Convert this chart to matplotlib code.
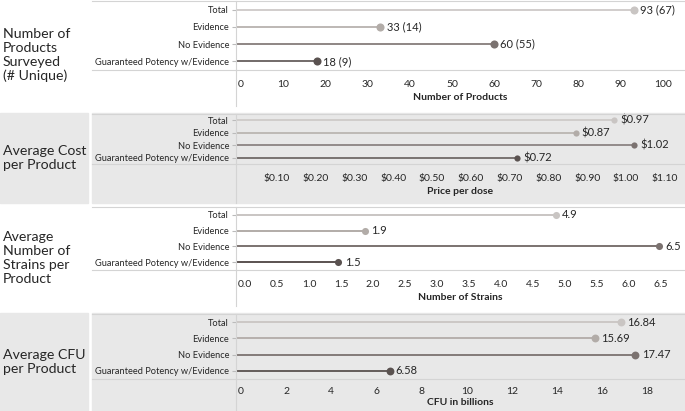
import matplotlib.pyplot as plt
from matplotlib.lines import Line2D
from matplotlib.patches import Rectangle

# ---- data ----
categories = ["Total", "Evidence", "No Evidence", "Guaranteed Potency w/Evidence"]
products = [93, 33, 60, 18]
products_unique = [67, 14, 55, 9]
cost = [0.97, 0.87, 1.02, 0.72]
strains = [4.86, 1.88, 6.48, 1.46]
cfu = [16.84, 15.69, 17.47, 6.58]

panel_titles = ["Number of\nProducts\nSurveyed\n(# Unique)",
                "Average Cost\nper Product",
                "Average\nNumber of\nStrains per\nProduct",
                "Average CFU\nper Product"]
axis_titles = ["Number of Products", "Price per dose", "Number of Strains", "CFU in billions"]

ticks_products = list(range(0, 101, 10))
ticks_cost = [0.1, 0.2, 0.3, 0.4, 0.5, 0.6, 0.7, 0.8, 0.9, 1.0, 1.1]
ticks_strains = [0.0, 0.5, 1.0, 1.5, 2.0, 2.5, 3.0, 3.5, 4.0, 4.5, 5.0, 5.5, 6.0, 6.5]
ticks_cfu = list(range(0, 19, 2))

colors = ["#c9c5c3", "#b2aca8", "#7b7270", "#5a5250"]
TXT = "#262626"

W, H = 685, 411
plt.rcParams['font.family'] = ['Lato', 'DejaVu Sans']
fig = plt.figure(figsize=(W / 100, H / 100), dpi=100)
fig.patch.set_facecolor("white")

def fx(px):
    return px / W

def fy(py):
    return 1 - py / H

def hline(x0, x1, y, color="#d4d4d4", lw=0.8):
    fig.add_artist(Line2D([fx(x0), fx(x1)], [fy(y), fy(y)], color=color, lw=lw))

def vline(x, y0, y1, color="#d4d4d4", lw=0.8):
    fig.add_artist(Line2D([fx(x), fx(x)], [fy(y0), fy(y1)], color=color, lw=lw))

# panel layout in pixels: (panel top, panel bottom, axes top, separator, tick y, title y, label center, shaded)
panels = [
    (0, 106, 1, 70, 82, 98, 55, False),
    (113, 203, 114, 164, 176, 192, 158, True),
    (203, 306, 207, 270, 282, 298, 258, False),
    (313, 411, 314, 379, 390, 404, 362, True),
]

series = [products, cost, strains, cfu]
xlims = [(-1.18, 105.2), (-0.005, 1.152), (-0.141, 6.88), (-0.222, 19.67)]
tick_sets = [ticks_products, ticks_cost, ticks_strains, ticks_cfu]
tick_fmt = [lambda v: f"{v:.0f}", lambda v: f"${v:.2f}", lambda v: f"{v:.1f}", lambda v: f"{v:.0f}"]

def value_label(k, i):
    if k == 0:
        return f"{products[i]} ({products_unique[i]})"
    if k == 1:
        return f"${cost[i]:.2f}"
    if k == 2:
        return f"{strains[i]:.1f}"
    return f"{cfu[i]:.2f}"

dot_sizes = [34, 20, 26, 32]
line_w = [1.2, 1.1, 1.4, 1.3]

for k, (ptop, pbot, atop, sep, ty, tty, lc, shaded) in enumerate(panels):
    bg = "#e8e8e8" if shaded else "white"
    if shaded:
        fig.add_artist(Rectangle((0, fy(pbot)), fx(88), fy(ptop) - fy(pbot),
                                 transform=fig.transFigure, color=bg, zorder=0))
        fig.add_artist(Rectangle((fx(92), fy(pbot)), fx(685 - 92), fy(ptop) - fy(pbot),
                                 transform=fig.transFigure, color=bg, zorder=0))

    fig.text(fx(3), fy(lc), panel_titles[k], ha="left", va="center",
             fontsize=10.2, color=TXT, linespacing=1.2)

    ax = fig.add_axes([fx(236), fy(sep), fx(685 - 236), fy(atop) - fy(sep)])
    ax.set_facecolor(bg)
    ax.patch.set_alpha(0 if not shaded else 1)
    vals = series[k]
    for i, v in enumerate(vals):
        ax.hlines(i, xlims[k][0], v, color=colors[i], lw=line_w[k], zorder=2)
        ax.scatter([v], [i], s=dot_sizes[k], color=colors[i], zorder=3, linewidths=0)
        ax.annotate(value_label(k, i), (v, i), xytext=(4.5, 0), textcoords="offset points",
                    ha="left", va="center", fontsize=8, color=TXT)
    ax.set_xlim(*xlims[k])
    ax.set_ylim(3.5, -0.5)
    ax.set_yticks(range(len(categories)))
    ax.set_yticklabels(categories, fontsize=6.7, color=TXT)
    ax.tick_params(axis="y", length=3, color="#bbbbbb", pad=2)
    ax.set_xticks(tick_sets[k])
    ax.set_xticklabels([tick_fmt[k](v) for v in tick_sets[k]], fontsize=7.5, color=TXT)
    ax.tick_params(axis="x", length=0, pad=(ty - sep) - 5)
    ax.set_xlabel(axis_titles[k], fontsize=7.5, fontweight="bold", color=TXT,
                  labelpad=(tty - ty) - 13)
    for s in ["top", "right"]:
        ax.spines[s].set_visible(False)
    ax.spines["left"].set_color("#d4d4d4")
    ax.spines["left"].set_linewidth(0.8)
    ax.spines["bottom"].set_visible(False)

    # separator, top rule and vertical rule
    hline(92, 685, sep)
    hline(92, 685, atop)
    vline(236, sep, pbot)

fig.savefig("out.png", dpi=100)
